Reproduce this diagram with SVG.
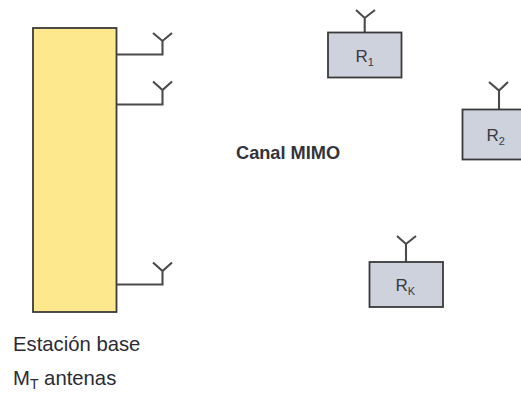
<svg xmlns="http://www.w3.org/2000/svg" width="521" height="394" viewBox="0 0 521 394">
<style>
.ant{fill:none;stroke:#4a4a4a;stroke-width:2.1}
.rx{fill:#cdd2dd;stroke:#3a3a3a;stroke-width:1.8}
.t{font-family:"Liberation Sans",Arial,sans-serif;font-size:20.300px;fill:#2b2b33}
.l{font-family:"Liberation Sans",Arial,sans-serif;font-size:17px;fill:#3a3a44}
.s{font-size:11px}
</style>
<rect width="521" height="394" fill="#fff"/>
<g id="base">
<rect x="33" y="28" width="83.500" height="284" fill="#fde88e" stroke="#3a3a3a" stroke-width="1.800"/>
<text class="t" x="13" y="351">Estación base</text>
<text class="t" x="13" y="385">M<tspan dy="4" font-size="14">T</tspan><tspan dy="-4"> antenas</tspan></text>
</g>
<g id="connectors">
<path class="ant" d="M117 54.500H162.500V41M153 33L162.500 41L172 33"/>
<path class="ant" d="M117 104.500H162.500V90M153 81.500L162.500 90L172 81.500"/>
<path class="ant" d="M117 284.500H162.500V271M153 262.500L162.500 271L172 262.500"/>
<path class="ant" d="M364.700 32V18M356 10L364.700 18L375 10"/>
<path class="ant" d="M499 109V90.500M489 82L499 90.500L508 82"/>
<path class="ant" d="M406 262V244M397 236L406 244L416 236"/>
</g>
<g id="r1">
<rect class="rx" x="328" y="32.500" width="73.500" height="45"/>
<text class="l" x="355.500" y="62">R<tspan class="s" dy="4">1</tspan></text>
</g>
<g id="r2">
<rect class="rx" x="462.500" y="109.500" width="60" height="50"/>
<text class="l" x="486.500" y="141">R<tspan class="s" dy="4">2</tspan></text>
</g>
<g id="rk">
<rect class="rx" x="369.500" y="262" width="73.500" height="45"/>
<text class="l" x="395.500" y="291">R<tspan class="s" dy="4">K</tspan></text>
</g>
<g id="canal">
<text x="236" y="159" font-family="'Liberation Sans',Arial,sans-serif" font-size="18.200" font-weight="bold" fill="#33333b">Canal MIMO</text>
</g>
</svg>
